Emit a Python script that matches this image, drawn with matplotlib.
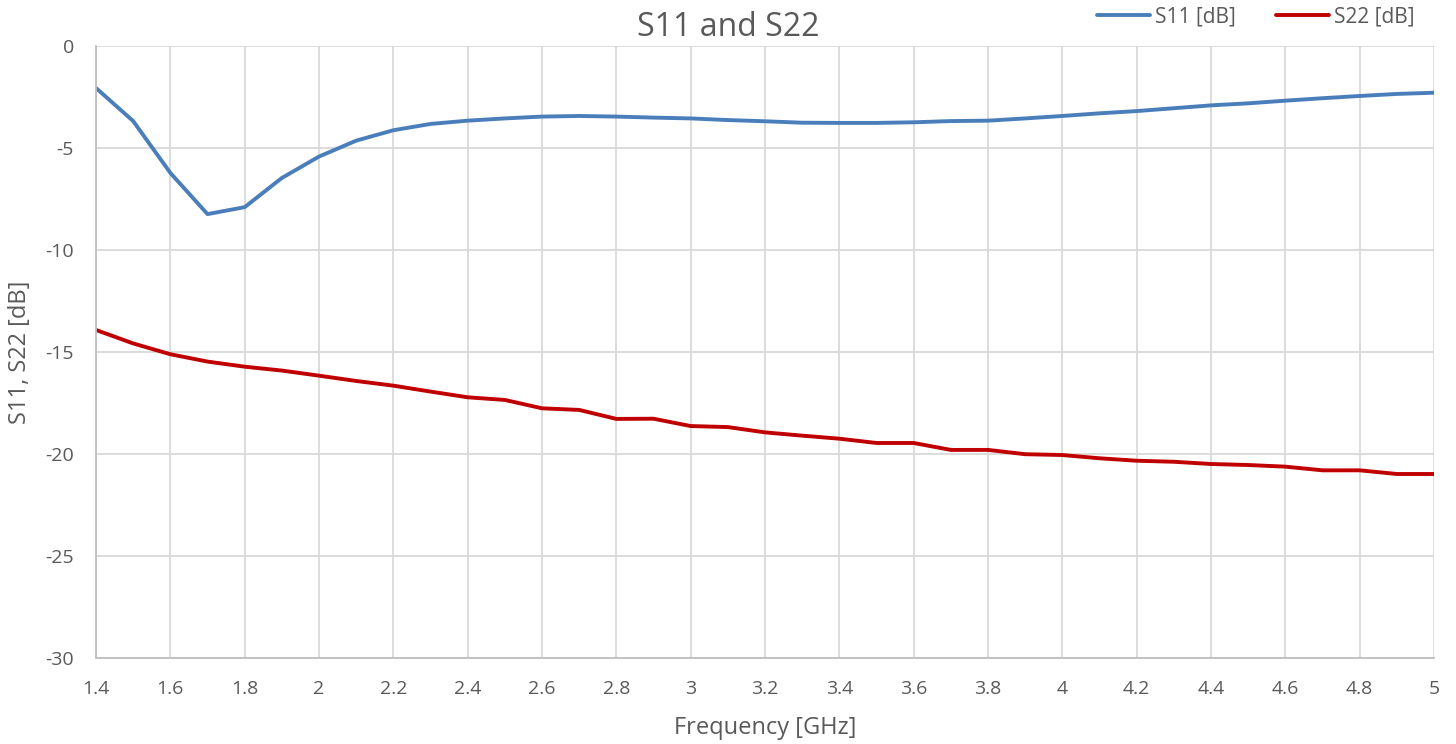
import matplotlib
matplotlib.use('Agg')
import matplotlib.pyplot as plt
from matplotlib.ticker import MultipleLocator, FormatStrFormatter

# frequency points [GHz]
freq = [1.4, 1.5, 1.6, 1.7, 1.8, 1.9, 2.0, 2.1, 2.2, 2.3, 2.4, 2.5,
        2.6, 2.7, 2.8, 2.9, 3.0, 3.1, 3.2, 3.3, 3.4, 3.5, 3.6, 3.7,
        3.8, 3.9, 4.0, 4.1, 4.2, 4.3, 4.4, 4.5, 4.6, 4.7, 4.8, 4.9, 5.0]

s11 = [-2.06, -3.68, -6.22, -8.24, -7.90, -6.47, -5.42, -4.64, -4.13, -3.82, -3.66, -3.55,
       -3.46, -3.43, -3.46, -3.51, -3.55, -3.63, -3.69, -3.76, -3.77, -3.77, -3.74, -3.68,
       -3.66, -3.55, -3.43, -3.30, -3.19, -3.05, -2.91, -2.81, -2.68, -2.56, -2.45, -2.35, -2.29]

s22 = [-13.92, -14.58, -15.11, -15.47, -15.72, -15.91, -16.16, -16.42, -16.65, -16.94, -17.22, -17.35,
       -17.76, -17.84, -18.28, -18.27, -18.63, -18.68, -18.94, -19.10, -19.25, -19.46, -19.46, -19.80,
       -19.80, -20.01, -20.05, -20.21, -20.33, -20.38, -20.49, -20.54, -20.62, -20.80, -20.80, -20.98, -20.98]

plt.rcParams['font.family'] = ['Open Sans', 'DejaVu Sans']
plt.rcParams['axes.unicode_minus'] = False

txtColor = '#595959'
gridColor = '#d9d9d9'

W, H = 1456, 744
fig = plt.figure(figsize=(W/100, H/100), dpi=100)
ax = fig.add_axes([96/W, 1 - 658/H, (1434 - 96)/W, (658 - 46)/H])

ax.plot(freq, s11, color='#4a7ebb', lw=2.8, label='S11 [dB]', solid_capstyle='round')
ax.plot(freq, s22, color='#c00000', lw=2.8, label='S22 [dB]', solid_capstyle='round')

ax.set_xlim(1.4, 5.0)
ax.set_ylim(-30, 0)
ax.xaxis.set_major_locator(MultipleLocator(0.2))
ax.yaxis.set_major_locator(MultipleLocator(5))
ax.xaxis.set_major_formatter(FormatStrFormatter('%g'))
ax.yaxis.set_major_formatter(FormatStrFormatter('%g'))
ax.grid(True, color=gridColor, lw=1.3)
ax.set_axisbelow(True)

for side in ['top', 'right']:
    ax.spines[side].set_visible(False)
for side in ['left', 'bottom']:
    ax.spines[side].set_color('#bfbfbf')
    ax.spines[side].set_linewidth(1.3)

ax.tick_params(length=0, labelsize=14, labelcolor=txtColor)
ax.tick_params(axis='x', pad=16)
ax.tick_params(axis='y', pad=16)

fig.suptitle('S11 and S22', x=0.5, y=1 - 27/H, va='center', fontsize=23, color=txtColor)

ax.set_xlabel('Frequency [GHz]', fontsize=17, color=txtColor)
ax.xaxis.label.set_va('center')
ax.xaxis.set_label_coords(0.5, (658 - 728)/612)
ax.set_ylabel('S11, S22 [dB]', fontsize=17, color=txtColor)
ax.yaxis.label.set_va('center')
ax.yaxis.set_label_coords((20 - 96)/1338, 0.5)

leg = fig.legend(loc='center left', bbox_to_anchor=(1097/W, 1 - 17/H), ncol=2,
                 frameon=False, fontsize=15, handlelength=2.55, columnspacing=1.9,
                 handletextpad=0.25, borderpad=0, borderaxespad=0)
for t in leg.get_texts():
    t.set_color(txtColor)

fig.savefig('out.png', dpi=100)
